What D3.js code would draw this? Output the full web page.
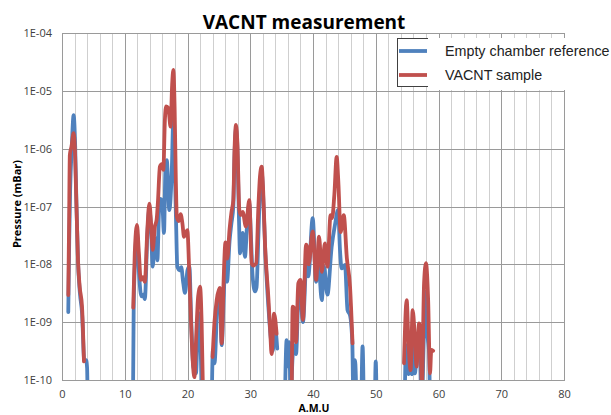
<!DOCTYPE html>
<html>
<head>
<meta charset="utf-8">
<script src="https://cdn.jsdelivr.net/npm/d3@7/dist/d3.min.js"></script>
<style>
  html, body { margin: 0; padding: 0; background: #fff; }
  svg { display: block; }
</style>
</head>
<body>
<svg id="chart" width="611" height="415"></svg>
<script>
// ---- Data ----
const chartTitle = "VACNT measurement";
const xTitle = "A.M.U";
const yTitle = "Pressure (mBar)";
const seriesNames = ["Empty chamber reference", "VACNT sample"];
const xTicks = [0, 10, 20, 30, 40, 50, 60, 70, 80];
const yTicks = [1e-10, 1e-9, 1e-8, 1e-7, 1e-6, 1e-5, 1e-4];
const yTickLabels = ["1E-10", "1E-09", "1E-08", "1E-07", "1E-06", "1E-05", "1E-04"];

// Empty chamber reference (blue); null = gap in the trace
const blueAmu = [
  1.0, 1.15, 1.3, 1.55, 1.85, 2.1, 2.3, 2.55, 2.85, 3.2, 3.55, 3.85, 4.0, 4.1, 7,
  11.3, 11.42, 11.65, 11.95, 12.3, 12.65, 12.95, 13.2, 13.6, 13.92, 14.2, 14.45, 14.8, 15.0, 15.2, 15.45, 15.7, 15.95, 16.25, 16.5, 16.7, 17.1, 17.5, 17.74, 17.95, 18.17, 18.38, 18.75, 19.0, 19.33, 19.6, 20.0, 20.3, 20.6, 20.93, 21.35, 21.73, 22.0, 22.3, 23,
  23.85, 24.05, 24.3, 24.8, 25.15, 25.45, 25.8, 26.05, 26.3, 26.7, 27.0, 27.3, 27.5, 27.73, 27.95, 28.2, 28.37, 28.8, 29.16, 29.5, 29.85, 30.1, 30.38, 30.76, 31.0, 31.3, 31.55, 31.82, 32.05, 32.4, 32.9, 33.3, 33.6, 33.9, 34.3, 35,
  35.5, 35.8, 36.05, 36.2, 36.45, 36.75, 37.0, 37.3, 37.66, 37.95, 38.4, 39.0, 39.25, 39.95, 40.5, 40.85, 41.4, 41.75, 42.3, 42.97, 43.5, 44.0, 44.3, 44.56, 45.1, 45.5, 45.9, 46.27, 46.45, 46.7, 46.95, 47.3,
  47.7, 47.9, 48.1, 49,
  49.85, 50.0, 50.15, 52,
  54.6, 54.8, 54.95, 55.2, 55.5, 55.75, 56.0, 56.25, 56.5, 57.05, 57.3, 57.7, 58.0, 58.2, 58.5, 58.65
];
const bluePressure = [
  1.5e-9, 2.5e-8, 2.0e-7, 1.0e-6, 3.8e-6, 1.12e-6, 1.12e-7, 1.12e-8, 3.2e-9, 1.41e-9, 2.2e-10, 2.2e-10, 1.6e-10, 3e-11, null,
  3e-11, 1.58e-9, 1.26e-8, 3.5e-8, 6.3e-9, 2.8e-9, 3.0e-9, 2.5e-9, 3.2e-8, 8.9e-8, 4.0e-8, 9.1e-9, 2.5e-8, 2.8e-8, 1.17e-8, 7.9e-8, 1.35e-7, 1.26e-7, 3.5e-8, 5.0e-7, 6.3e-7, 8.7e-8, 4.3e-7, 3.3e-6, 6.3e-7, 5.9e-8, 9.1e-9, 7.9e-9, 8.9e-9, 4.7e-9, 3.2e-9, 7.9e-9, 9.1e-9, 1.0e-9, 1.7e-10, 1.3e-10, 1.45e-9, 7.9e-10, 3e-11, null,
  3e-11, 3.3e-10, 1.95e-10, 2.4e-9, 3.2e-9, 4.0e-10, 3.2e-9, 1.41e-8, 5.0e-9, 2.5e-8, 5.1e-8, 1.0e-7, 7.9e-7, 2.2e-6, 1.0e-6, 6.3e-8, 1.55e-8, 3.5e-8, 1.35e-8, 5.0e-8, 1.12e-7, 3.2e-8, 6.2e-9, 3.4e-9, 4.0e-9, 3.2e-8, 2.0e-7, 4.0e-7, 1.58e-7, 1.58e-8, 1.78e-9, 5.0e-10, 3.2e-10, 8.9e-10, 3.5e-10, null,
  3e-11, 4.9e-10, 1.7e-10, 4.5e-10, 5e-11, 2.5e-10, 4.0e-10, 2.8e-10, 2.4e-9, 3.2e-9, 1.0e-9, 1.35e-8, 6.2e-9, 6.3e-8, 5.0e-9, 1.12e-8, 2.4e-9, 9.1e-9, 3.0e-9, 2.0e-8, 4.8e-8, 8.7e-8, 1.78e-8, 8.5e-9, 9.8e-9, 1.62e-9, 1.32e-9, 4.3e-10, 3e-11, 2.2e-10, 3e-11, null,
  3e-11, 3.8e-10, 3e-11, null,
  3e-11, 2.1e-10, 3e-11, null,
  3e-11, 3.8e-10, 4.0e-10, 1.26e-10, 2.5e-10, 1.26e-10, 7.2e-10, 1.3e-10, 2.5e-10, 2.2e-10, 3e-11, 7.2e-10, 3.4e-9, 7.2e-10, 2.9e-10, 3e-11
];

// VACNT sample (red)
const redAmu = [
  1.0, 1.12, 1.25, 1.5, 1.85, 2.05, 2.28, 2.55, 2.82, 3.19, 3.5, 7,
  11.35, 11.6, 11.95, 12.25, 12.55, 12.9, 13.2, 13.6, 13.92, 14.2, 14.45, 14.8, 15.08, 15.3, 15.6, 15.9, 16.15, 16.4, 16.6, 16.95, 17.3, 17.55, 17.74, 17.95, 18.15, 18.3, 18.6, 18.9, 19.2, 19.44, 19.75, 19.97, 20.3, 20.6, 20.85, 21.1, 21.4, 21.7, 22.0, 22.25, 22.5, 23,
  24.0, 24.3, 24.65, 25.15, 25.45, 25.75, 26.05, 26.35, 26.7, 27.0, 27.3, 27.5, 27.73, 27.95, 28.26, 28.5, 28.8, 29.3, 29.85, 30.23, 30.5, 30.95, 31.3, 31.55, 31.82, 32.05, 32.35, 32.9, 33.2, 33.4, 33.8, 34.2, 35,
  36.6, 36.76, 36.95, 37.3, 37.66, 38.0, 38.4, 38.9, 39.1, 39.3, 39.95, 40.5, 40.96, 41.4, 41.9, 42.3, 42.8, 43.05, 43.4, 43.77, 44.05, 44.4, 44.9, 45.4, 45.9, 46.3, 50,
  54.5, 54.93, 55.2, 55.55, 55.88, 56.25, 56.5, 56.9, 57.1, 57.35, 57.7, 58.0, 58.35, 58.65, 58.85, 59.15
];
const redPressure = [
  2.95e-9, 4.0e-8, 7.9e-7, 1.07e-6, 1.86e-6, 1.0e-6, 1.29e-7, 1.17e-8, 4.1e-9, 1.86e-9, 2.1e-10, null,
  1.78e-9, 1.6e-8, 4.8e-8, 1.6e-8, 5.4e-9, 6.0e-9, 5.0e-9, 4.0e-8, 1.12e-7, 5.0e-8, 1.78e-8, 4.5e-8, 5.9e-8, 1.26e-7, 4.9e-7, 5.4e-7, 4.3e-7, 3.2e-6, 5.4e-6, 5.0e-6, 2.4e-6, 1.26e-5, 2.3e-5, 5.0e-6, 2.5e-7, 6.6e-8, 5.6e-8, 7.4e-8, 5.0e-8, 3.0e-8, 3.5e-8, 3.9e-8, 6.3e-9, 7.9e-10, 2.0e-10, 1.12e-10, 6.3e-10, 2.8e-9, 4.1e-9, 1.0e-9, 4e-11, null,
  2.5e-10, 1.0e-9, 2.4e-9, 3.9e-9, 4.3e-10, 5.0e-9, 2.4e-8, 1.26e-8, 4.0e-8, 7.9e-8, 1.29e-7, 1.0e-6, 2.57e-6, 1.26e-6, 8.7e-8, 7.1e-8, 8.1e-8, 4.5e-8, 1.29e-7, 1.05e-8, 9.5e-9, 1.05e-8, 1.0e-7, 3.3e-7, 4.9e-7, 2.0e-7, 2.3e-8, 2.5e-9, 6.3e-10, 2.8e-10, 1.41e-9, 6.3e-10, null,
  4e-11, 1.86e-9, 1.78e-9, 4.5e-10, 4.7e-9, 5.4e-9, 1.1e-9, 2.2e-8, 2.0e-8, 1.0e-8, 3.7e-8, 5.4e-9, 3.0e-8, 7.4e-9, 2.3e-8, 9.1e-9, 7.1e-8, 6.3e-8, 1.58e-7, 7.2e-7, 2.5e-7, 3.6e-8, 7.1e-8, 1.26e-8, 4.1e-9, 4.3e-10, null,
  1.95e-10, 2.4e-9, 4.9e-10, 1.48e-10, 1.62e-9, 4.9e-10, 1.7e-10, 9.5e-10, 7.9e-10, 8e-11, 4.7e-9, 1.05e-8, 2.4e-9, 1.3e-10, 3.3e-10, 3.2e-10
];

// ---- Drawing ----
const svg = d3.select("#chart");
const W = 611, H = 415;
const plot = { left: 62, right: 564, top: 33, bottom: 380 };

const x = d3.scaleLinear().domain([0, 80]).range([plot.left, plot.right]);
const y = d3.scaleLog().domain([1e-10, 1e-4]).range([plot.bottom, plot.top]);

svg.append("rect").attr("width", W).attr("height", H).attr("fill", "#fff");

// Vertical gridlines every 2 AMU
const g = svg.append("g");
d3.range(0, 81, 2).forEach(v => {
  const major = v % 10 === 0;
  g.append("line")
    .attr("x1", Math.round(x(v)) + 0.5).attr("x2", Math.round(x(v)) + 0.5)
    .attr("y1", plot.top).attr("y2", plot.bottom)
    .attr("stroke", major ? "#9a9a9a" : "#cfcfcf")
    .attr("stroke-width", 1);
});
// Horizontal decade gridlines
yTicks.forEach(v => {
  g.append("line")
    .attr("x1", plot.left).attr("x2", plot.right + 1)
    .attr("y1", Math.round(y(v)) + 0.5).attr("y2", Math.round(y(v)) + 0.5)
    .attr("stroke", "#9a9a9a").attr("stroke-width", 1);
});

// Axes (labels only, via d3 axes)
const xAxis = d3.axisBottom(x).tickValues(xTicks).tickSize(0).tickPadding(10);
const xg = svg.append("g").attr("transform", `translate(0,${plot.bottom})`).call(xAxis);
xg.select(".domain").remove();
xg.selectAll("text").attr("font-family", "Open Sans").attr("font-size", 11).attr("fill", "#404040");

const yAxis = d3.axisLeft(y).tickValues(yTicks).tickFormat((d, i) => yTickLabels[i]).tickSize(0).tickPadding(10);
const yg = svg.append("g").attr("transform", `translate(${plot.left},0)`).call(yAxis);
yg.select(".domain").remove();
yg.selectAll("text").attr("font-family", "Open Sans").attr("font-size", 11).attr("fill", "#404040");

// Clip
svg.append("clipPath").attr("id", "clip").append("rect")
  .attr("x", plot.left).attr("y", plot.top - 10)
  .attr("width", plot.right - plot.left).attr("height", plot.bottom - plot.top + 10);

const line = d3.line()
  .defined(d => d.p != null)
  .x(d => x(d.a))
  .y(d => y(d.p))
  .curve(d3.curveMonotoneX);

const blueData = blueAmu.map((a, i) => ({ a, p: bluePressure[i] }));
const redData = redAmu.map((a, i) => ({ a, p: redPressure[i] }));

const lines = svg.append("g").attr("clip-path", "url(#clip)");
lines.append("path").datum(blueData).attr("d", line)
  .attr("fill", "none").attr("stroke", "#4F81BD").attr("stroke-width", 3.8)
  .attr("stroke-linejoin", "round").attr("stroke-linecap", "round");
lines.append("path").datum(redData).attr("d", line)
  .attr("fill", "none").attr("stroke", "#C0504D").attr("stroke-width", 3.8)
  .attr("stroke-linejoin", "round").attr("stroke-linecap", "round");

// Title
svg.append("text").attr("x", 304).attr("y", 29).attr("text-anchor", "middle")
  .attr("font-family", "Open Sans").attr("font-weight", 700).attr("font-size", 19)
  .attr("fill", "#000").text(chartTitle);

// Axis titles
svg.append("text").attr("x", 314).attr("y", 411.5).attr("text-anchor", "middle")
  .attr("font-family", "Open Sans").attr("font-weight", 700).attr("font-size", 10.5)
  .attr("fill", "#000").text(xTitle);
svg.append("text").attr("transform", "translate(21,204) rotate(-90)").attr("text-anchor", "middle")
  .attr("font-family", "Open Sans").attr("font-weight", 700).attr("font-size", 11)
  .attr("fill", "#000").text(yTitle);

// Legend (box partly covered by white panel, as in reference)
svg.append("rect").attr("x", 397.5).attr("y", 38.5).attr("width", 60).attr("height", 48)
  .attr("fill", "#fff").attr("stroke", "#404040").attr("stroke-width", 1);
svg.append("rect").attr("x", 428).attr("y", 38).attr("width", W - 428).attr("height", 52)
  .attr("fill", "#fff");
const legColors = ["#4F81BD", "#C0504D"];
const legY = [51, 75];
seriesNames.forEach((name, i) => {
  svg.append("line").attr("x1", 399).attr("x2", 427).attr("y1", legY[i]).attr("y2", legY[i])
    .attr("stroke", legColors[i]).attr("stroke-width", 3.8);
  svg.append("text").attr("x", 445).attr("y", legY[i] + 5)
    .attr("font-family", "Liberation Sans, Arial, sans-serif").attr("font-size", 14.3)
    .attr("fill", "#222").text(name);
});
</script>
</body>
</html>
